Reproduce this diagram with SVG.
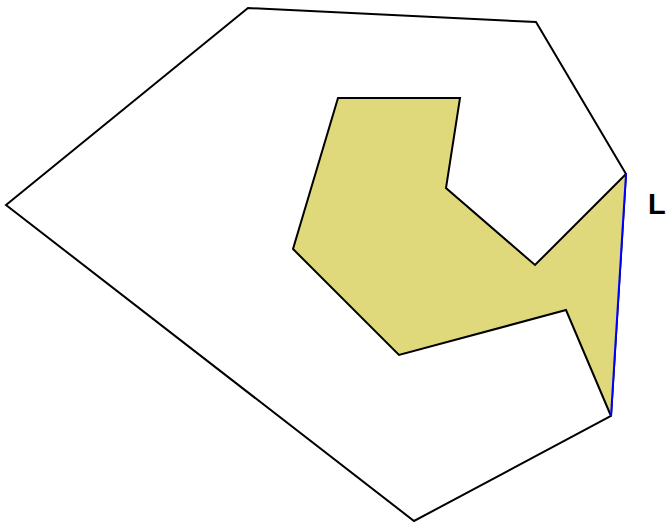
<svg xmlns="http://www.w3.org/2000/svg" width="668" height="525" viewBox="0 0 668 525">
<style>
.edge{fill:none;stroke:#000;stroke-width:2;stroke-linejoin:miter}
.lbl{font-family:"Liberation Sans",Arial,sans-serif;font-weight:bold;font-size:29px;fill:#000}
</style>
<rect width="668" height="525" fill="#fff"/>
<g id="outer">
<polygon class="edge" points="6,205 248,8 536,22 626,174 611,416 414,521"/>
</g>
<g id="region">
<polygon points="338,98 460,98 446,188 535,265 626,174 611,416 566,310 399,355 293,249" fill="#e0d97b" stroke="none"/>
<polyline class="edge" points="626,174 535,265 446,188 460,98 338,98 293,249 399,355 566,310 611,416"/>
</g>
<g id="connectors">
<line x1="626" y1="174" x2="611" y2="416" stroke="#0000ff" stroke-width="2"/>
</g>
<g id="label">
<text class="lbl" x="648" y="214">L</text>
</g>
</svg>
